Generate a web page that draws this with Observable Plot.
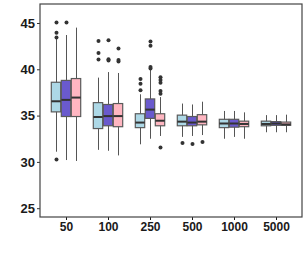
<!DOCTYPE html>
<html><head><meta charset="utf-8">
<style>body{margin:0;background:#fff}</style>
<script src="https://cdn.jsdelivr.net/npm/d3@7"></script>
<script src="https://cdn.jsdelivr.net/npm/@observablehq/plot@0.6"></script>
</head><body><div id="chart"></div>
<script>
const categories = ["50", "100", "250", "500", "1000", "5000"];
const series = ["A", "B", "C"];
const seriesColors = ["#ADD8E6", "#6A5ACD", "#FFB6C1"];
const yTicks = [25, 30, 35, 40, 45];

// per series, per category: [lowWhisker, q1, median, q3, highWhisker]
const statsA = [[31.1,35.4,36.6,38.6,43.3],[31.3,33.6,34.9,36.4,39.1],[31.9,33.7,34.3,35.2,37.3],[32.7,33.9,34.4,35.05,36.3],[32.5,33.7,34.2,34.6,35.5],[33.2,33.9,34.15,34.4,35.05]];
const statsB = [[30.2,34.9,36.75,38.8,43.7],[31.2,33.9,35.0,36.2,39.7],[32.5,34.7,35.7,36.8,40.0],[32.8,33.9,34.3,34.9,36.2],[32.7,33.75,34.2,34.6,35.5],[33.2,33.95,34.2,34.35,35.05]];
const statsC = [[30.1,34.9,37.0,39.0,44.5],[30.7,33.8,35.0,36.3,39.6],[32.8,33.9,34.5,35.2,37.0],[32.9,34.0,34.4,35.1,36.5],[32.5,33.8,34.15,34.4,35.35],[33.2,33.95,34.1,34.3,35.1]];

const outliersA = [[45.1,44.0,43.5,30.3],[43.1,41.8,41.1],[39.0,38.5,37.8],[32.1],[],[]];
const outliersB = [[45.1],[43.2,41.15,41.0],[43.05,42.6,40.3,40.15],[32.0],[],[]];
const outliersC = [[],[42.3,41.05,40.9],[39.2,38.9,38.6,37.7,37.4,31.6],[32.2],[],[]];

const allStats = [statsA, statsB, statsC];
const allOutliers = [outliersA, outliersB, outliersC];

const stats = [];
const outliers = [];
series.forEach((s, si) => {
  categories.forEach((c, ci) => {
    const [lo, q1, med, q3, hi] = allStats[si][ci];
    stats.push({cat: c, series: s, lo, q1, med, q3, hi});
    allOutliers[si][ci].forEach(v => outliers.push({cat: c, series: s, value: v}));
  });
});

const W = 307, H = 256;
const mL = 40, mT = 4, mR = 5, mB = 39;
const fontFamily = "'Liberation Sans', Arial, sans-serif";

const plot = Plot.plot({
  width: W, height: H,
  marginLeft: mL, marginTop: mT, marginRight: mR, marginBottom: mB,
  style: {fontFamily, fontWeight: "bold", fontSize: "12px", color: "#1a1a1a", background: "#fff"},
  fx: {domain: categories, paddingInner: 0.25, paddingOuter: 0.225, axis: "bottom", label: null, tickSize: 3, tickPadding: 2},
  x: {domain: series, axis: null, padding: 0},
  y: {domain: [24.05, 47.05], axis: null},
  color: {domain: series, range: seriesColors},
  marks: [
    Plot.ruleX(stats, {fx: "cat", x: "series", y1: "lo", y2: "hi", stroke: "#555", strokeWidth: 1}),
    Plot.barY(stats, {fx: "cat", x: "series", y1: "q1", y2: "q3", fill: "series", stroke: "#5a5a5a", strokeWidth: 1.2, insetLeft: 0.3, insetRight: 0.3}),
    Plot.tickY(stats, {fx: "cat", x: "series", y: "med", stroke: "#333", strokeWidth: 2, insetLeft: 0.3, insetRight: 0.3}),
    Plot.dot(outliers, {fx: "cat", x: "series", y: "value", r: 2, fill: "#333", stroke: "none"})
  ]
});

const svg = d3.select(plot);
// y axis along the panel's left edge, from Plot's own y scale
const ys = plot.scale("y");
const yScale = d3.scaleLinear(ys.domain, ys.range);
const yAxis = svg.append("g")
  .attr("transform", `translate(${mL},0)`)
  .call(d3.axisLeft(yScale).tickValues(yTicks).tickSize(3).tickPadding(2));
yAxis.select(".domain").remove();
yAxis.selectAll("line").attr("stroke", "#333");
yAxis.selectAll("text")
  .attr("fill", "#1a1a1a")
  .style("font-family", fontFamily)
  .style("font-weight", "bold")
  .style("font-size", "13px");

svg.append("rect")
  .attr("x", mL).attr("y", mT)
  .attr("width", W - mL - mR).attr("height", H - mT - mB)
  .attr("fill", "none").attr("stroke", "#444").attr("stroke-width", 1.2);

document.getElementById("chart").appendChild(plot);
</script>
</body></html>
